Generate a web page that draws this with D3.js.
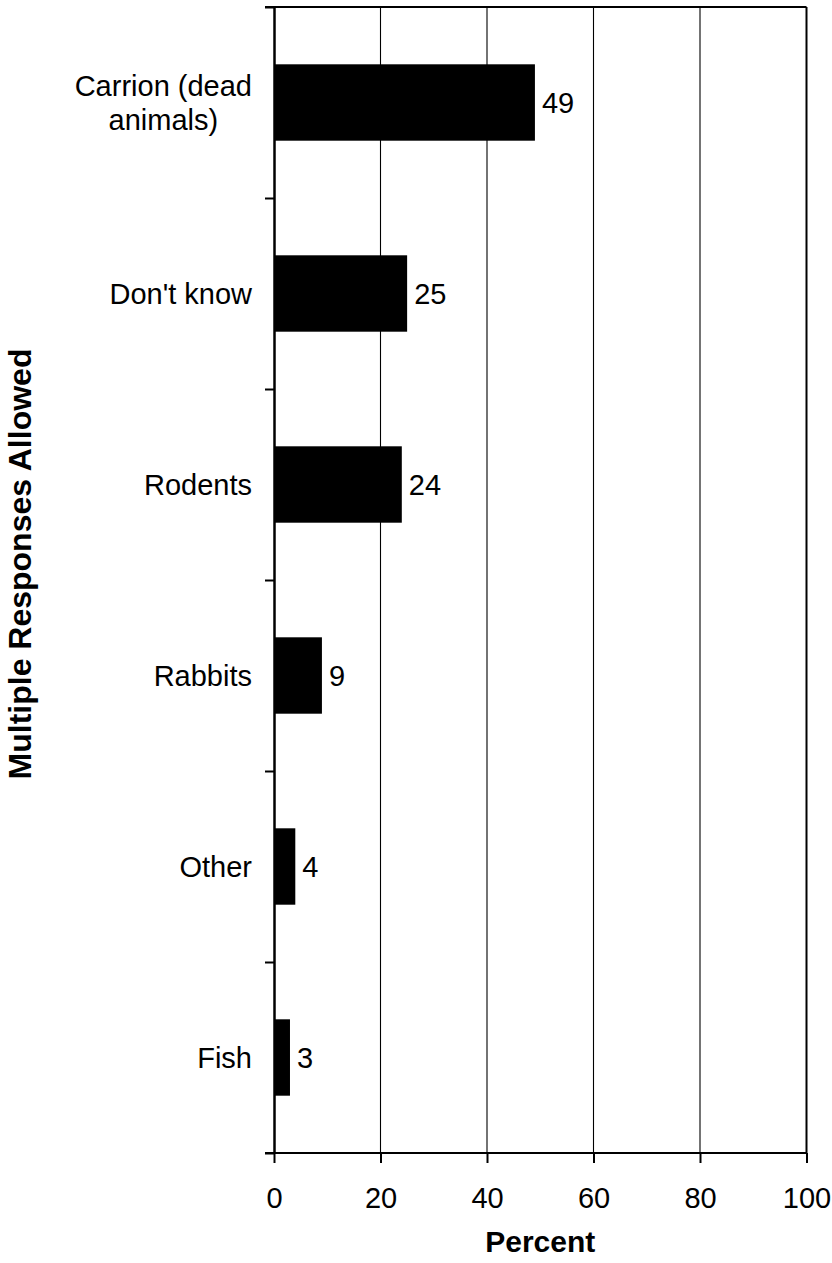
<!DOCTYPE html>
<html>
<head>
<meta charset="utf-8">
<script src="https://cdn.jsdelivr.net/npm/d3@7"></script>
<style>
  html, body { margin: 0; padding: 0; background: #fff; }
  svg { display: block; font-family: "Liberation Sans", Arial, sans-serif; }
</style>
</head>
<body>
<svg id="chart" width="832" height="1263"></svg>
<script>
// Survey responses (percent), multiple responses allowed
const categories = [["Carrion (dead", "animals)"], ["Don't know"], ["Rodents"], ["Rabbits"], ["Other"], ["Fish"]];
const values = [49, 25, 24, 9, 4, 3];
const xTicks = [0, 20, 40, 60, 80, 100];
const xTitle = "Percent";
const yTitle = "Multiple Responses Allowed";

const svg = d3.select("#chart");
const margin = { left: 274, right: 26, top: 7, bottom: 110 };
const W = 832, H = 1263;
const x0 = margin.left, x1 = W - margin.right;
const y0 = margin.top, y1 = H - margin.bottom;

const keys = categories.map((c, i) => i);
const x = d3.scaleLinear().domain([0, 100]).range([x0, x1 + 0.5]);
const y = d3.scaleBand().domain(keys).range([y0, y1]).paddingInner(0.6).paddingOuter(0.3);
// Category boundaries (for the y-axis tick marks)
const yb = d3.scaleLinear().domain([0, categories.length]).range([y0, y1]);

// Vertical gridlines
svg.append("g")
  .selectAll("line")
  .data(xTicks.filter(t => t > 0 && t < 100))
  .join("line")
  .attr("x1", d => x(d)).attr("x2", d => x(d))
  .attr("y1", y0).attr("y2", y1)
  .attr("stroke", "#000").attr("stroke-width", 1.1);

// Bars
svg.append("g")
  .selectAll("rect")
  .data(values)
  .join("rect")
  .attr("x", x(0))
  .attr("y", (d, i) => y(i))
  .attr("width", d => x(d) - x(0))
  .attr("height", y.bandwidth())
  .attr("fill", "#000");

// Value labels
svg.append("g")
  .selectAll("text")
  .data(values)
  .join("text")
  .attr("x", d => x(d) + 7)
  .attr("y", (d, i) => y(i) + y.bandwidth() / 2)
  .attr("dy", "0.35em")
  .attr("font-size", 29)
  .text(d => d);

// Plot frame: top and right edges
svg.append("line")
  .attr("x1", x0 - 9).attr("x2", x(100))
  .attr("y1", y0).attr("y2", y0)
  .attr("stroke", "#000").attr("stroke-width", 2);
svg.append("line")
  .attr("x1", x(100)).attr("x2", x(100))
  .attr("y1", y0).attr("y2", y1)
  .attr("stroke", "#000").attr("stroke-width", 2);

// X axis
const xAxis = svg.append("g")
  .attr("transform", `translate(0,${y1})`)
  .call(d3.axisBottom(x).tickValues(xTicks).tickSizeInner(10).tickSizeOuter(0).tickPadding(24));
xAxis.select(".domain").attr("stroke-width", 2).attr("d", `M${x0 - 9},0H${x(100)}`);
xAxis.selectAll(".tick line").attr("stroke-width", 2);
xAxis.selectAll(".tick text").attr("font-size", 29).attr("fill", "#000")
  .attr("font-family", "Liberation Sans, Arial, sans-serif");

// Y axis (ticks at category boundaries)
const yAxis = svg.append("g")
  .attr("transform", `translate(${x0},0)`)
  .call(d3.axisLeft(yb).tickValues(d3.range(categories.length + 1)).tickFormat("").tickSizeInner(9).tickSizeOuter(0));
yAxis.select(".domain").attr("stroke-width", 2.5);
yAxis.selectAll(".tick line").attr("stroke-width", 2);

// Category labels
const labelRight = 252;
const lineH = 34;
const labels = svg.append("g").attr("font-size", 29).attr("fill", "#000");
categories.forEach((lines, i) => {
  const cy = y(i) + y.bandwidth() / 2;
  const t = labels.append("text").attr("text-anchor", "middle");
  lines.forEach((ln, j) => {
    t.append("tspan")
      .attr("y", cy + (j - (lines.length - 1) / 2) * lineH)
      .attr("dy", "0.35em")
      .text(ln);
  });
  // right-align the block, centre lines within it
  const widths = [];
  t.selectAll("tspan").each(function () { widths.push(this.getComputedTextLength()); });
  const maxW = d3.max(widths);
  t.selectAll("tspan").attr("x", labelRight - maxW / 2);
});

// Axis titles
svg.append("text")
  .attr("x", (x(0) + x(100)) / 2)
  .attr("y", 1252)
  .attr("text-anchor", "middle")
  .attr("font-size", 30)
  .attr("font-weight", "bold")
  .text(xTitle);

svg.append("text")
  .attr("transform", `translate(31,564) rotate(-90)`)
  .attr("text-anchor", "middle")
  .attr("font-size", 32)
  .attr("font-weight", "bold")
  .text(yTitle);
</script>
</body>
</html>
